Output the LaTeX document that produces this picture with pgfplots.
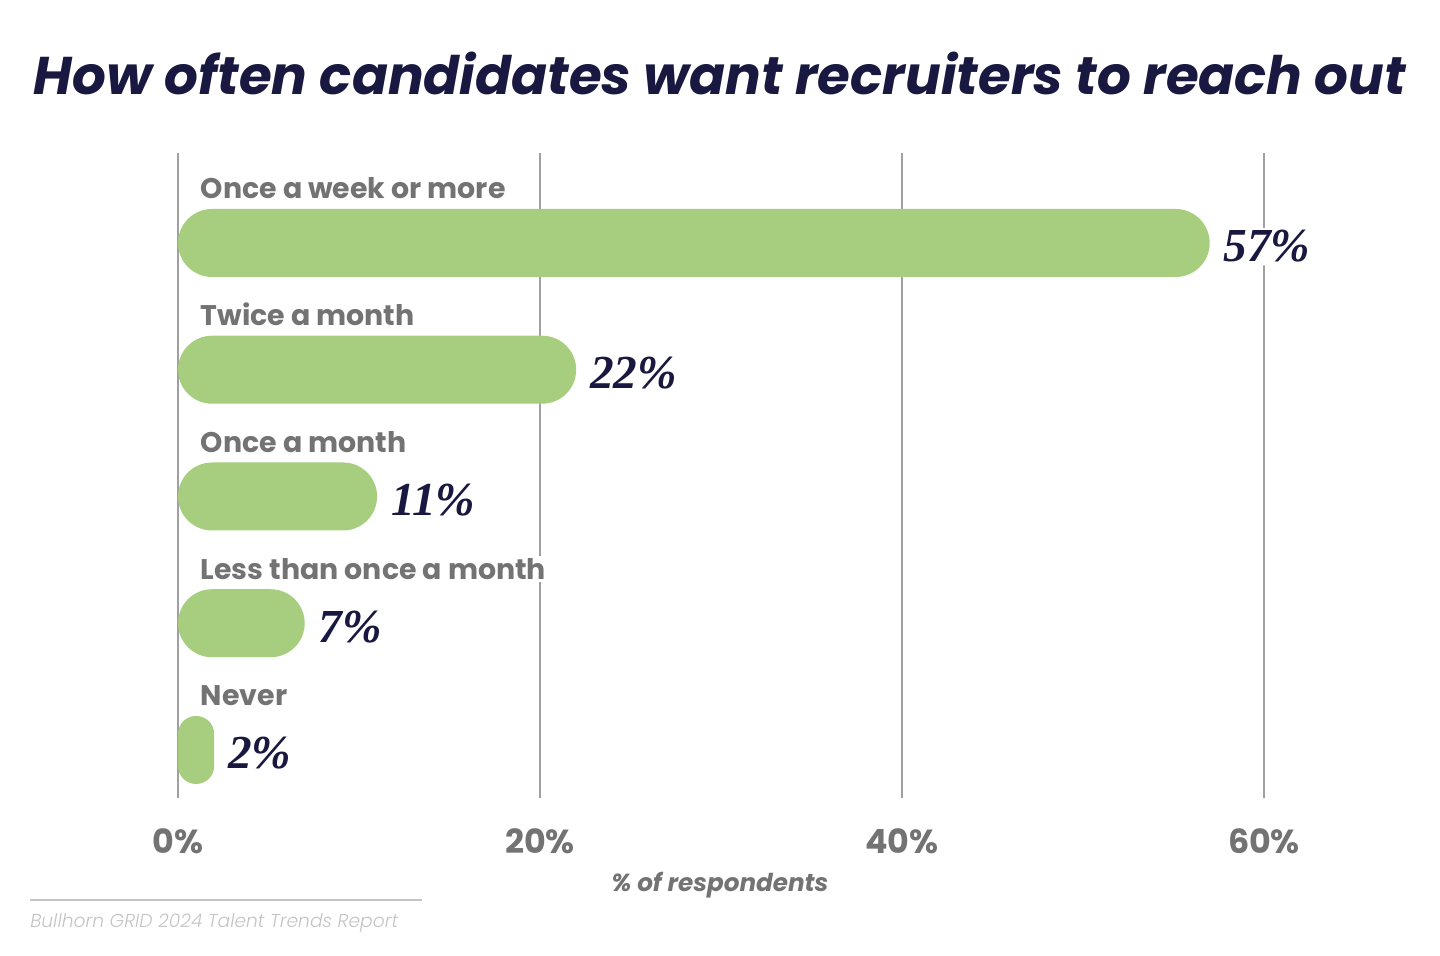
\documentclass[border=0pt]{standalone}
\usepackage{pgfplots}
\pgfplotsset{compat=1.18}
\usepackage{fontspec}
\setmainfont{Poppins}
\newfontfamily\valfont{Liberation Serif}
\newfontfamily\lightfont{Poppins Light}[ItalicFont={Poppins Light Italic}]
\definecolor{barg}{HTML}{A6CE7E}
\definecolor{navy}{HTML}{181840}
\definecolor{lab}{HTML}{737373}
\definecolor{gridc}{HTML}{A0A0A0}
\definecolor{src}{HTML}{C4C4C4}
\def\u{0.75pt}
\begin{document}
\begin{tikzpicture}
\useasboundingbox (0,0) rectangle ({1440*\u},{-956*\u});
\node[font=\fontsize{39.8}{46}\selectfont\bfseries\itshape, text=navy, inner sep=0pt] at ({720*\u},{-73*\u}) {How often candidates want recruiters to reach out};
\begin{axis}[
  at={({178*\u},{-798*\u})}, anchor=south west,
  scale only axis, width={1086*\u}, height={645*\u},
  xmin=0, xmax=60, ymin=-0.379, ymax=4.71,
  axis line style={draw=none},
  xtick={0,20,40,60}, xticklabels={0\%,20\%,40\%,60\%},
  ytick=\empty, major tick length=0pt,
  xmajorgrids, grid style={gridc, line width={2*\u}},
  xticklabel style={font=\fontsize{25}{30}\selectfont\bfseries, text=lab, anchor=base, yshift={-55*\u}},
  /pgf/number format/assume math mode=true,
  xbar, bar shift=0pt, bar width={68*\u},
  clip=false,
  nodes near coords={\pgfmathprintnumber{\pgfplotspointmeta}\%},
  nodes near coords style={font=\fontsize{35.5}{40}\selectfont\valfont\bfseries\itshape, text=navy, anchor=base west, xshift={11*\u}, yshift={-19*\u}, fill=white, inner sep=2pt},
]
\addplot[fill=barg, draw=none, rounded corners={34*\u}] coordinates {(57,4) (22,3) (11,2) (7,1)};
\addplot[fill=barg, draw=none, rounded corners={18*\u}] coordinates {(2,0)};
\foreach \lbl/\yy in {Once a week or more/4, Twice a month/3, Once a month/2, Less than once a month/1, Never/0}{
  \edef\tmp{\noexpand\node[anchor=base west, font=\noexpand\fontsize{21.3}{26}\noexpand\selectfont\noexpand\bfseries, text=lab, fill=white, inner sep=2pt, xshift={20*\u}, yshift={44*\u}] at (axis cs:0,\yy) {\lbl};}
  \tmp
}
\end{axis}
\node[anchor=base, font=\fontsize{18.5}{20}\selectfont\bfseries\itshape, text=lab] at ({720*\u},{-891*\u}) {\% of respondents};
\draw[src, line width={2*\u}] ({30*\u},{-900*\u}) -- ({422*\u},{-900*\u});
\node[anchor=base west, font=\fontsize{14}{16}\selectfont\lightfont\itshape, text=src, inner sep=0pt] at ({30*\u},{-927*\u}) {Bullhorn GRID 2024 Talent Trends Report};
\end{tikzpicture}
\end{document}
